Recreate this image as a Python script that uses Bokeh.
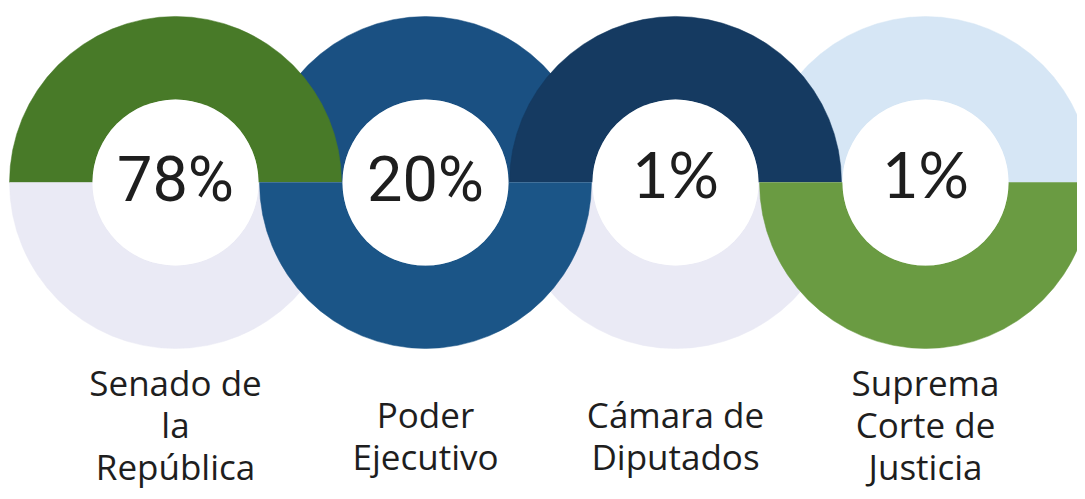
import math
from bokeh.plotting import figure
from bokeh.models import Range1d, ColumnDataSource
from bokeh.core.properties import value
from bokeh.embed import file_html
from bokeh.resources import INLINE

# ---- data ----
institutions = ["Senado de\nla\nRepública", "Poder\nEjecutivo",
                "Cámara de\nDiputados", "Suprema\nCorte de\nJusticia"]
shares = [78, 20, 1, 1]

# ---- styles ----
top_colors = ["#487a28", "#1a5082", "#153a61", "#d6e6f5"]
bottom_colors = ["#eaeaf5", "#1b5587", "#eaeaf5", "#6a9b42"]
pct_fonts = ["Roboto", "Roboto", "Lato", "Lato"]
pct_shift = {"Roboto": -3, "Lato": -9}   # visual centring per font (px)

W, H = 1077, 491
SPACING = 250
X0 = 175
CY_PX = 182
R_OUT, R_IN = 166, 83
LABEL_SIZE = 35
LABEL_MID = 0.388 * LABEL_SIZE      # baseline offset of a "middle" anchored line
LINE = 42


def Y(px):
    """pixel row from the top -> data y"""
    return H - px


p = figure(width=W, height=H, output_backend="svg", toolbar_location=None,
           x_range=Range1d(0, W), y_range=Range1d(0, H), min_border=0)
p.axis.visible = False
p.grid.visible = False
p.outline_line_color = None
p.background_fill_color = "white"
p.border_fill_color = "white"

n = len(shares)
xs = [X0 + SPACING * i for i in range(n)]
ys = [Y(CY_PX)] * n


def halves(idx, top):
    src = ColumnDataSource(dict(
        x=[xs[i] for i in idx], y=[ys[i] for i in idx],
        color=[(top_colors if top else bottom_colors)[i] for i in idx]))
    a0, a1 = (0, math.pi) if top else (math.pi, 2 * math.pi)
    p.annular_wedge(x="x", y="y", inner_radius=R_IN, outer_radius=R_OUT,
                    inner_radius_units="screen", outer_radius_units="screen",
                    start_angle=a0, end_angle=a1, direction="anticlock",
                    fill_color="color", line_color="color", line_width=0.5,
                    source=src)


odd = [i for i in range(n) if i % 2 == 1]
even = [i for i in range(n) if i % 2 == 0]
# woven chain: odd rings under at top, over at bottom
halves(odd, True)
halves(even, True)
halves(even, False)
halves(odd, False)

# white holes
p.circle(x=xs, y=ys, radius=R_IN, radius_units="screen",
         fill_color="white", line_color=None)

# percentages
for i in range(n):
    f = pct_fonts[i]
    p.text(x=[xs[i]], y=[ys[i]], text=[f"{shares[i]}%"],
           text_font=value(f), text_font_size="63px",
           text_color="#1e1e1e", text_align="center",
           text_baseline="middle", y_offset=pct_shift[f])

# labels
for i, lab in enumerate(institutions):
    lines = lab.split("\n")
    m = len(lines)
    mid = min(449, 480 - LINE * (m - 1) / 2)
    for k, line in enumerate(lines):
        base = mid + LINE * (k - (m - 1) / 2)
        p.text(x=[xs[i]], y=[Y(base - LABEL_MID)], text=[line],
               text_font=value("Open Sans"), text_font_size=f"{LABEL_SIZE}px",
               text_color="#1e1e1e", text_align="center",
               text_baseline="middle")

open("out.html", "w").write(file_html(p, INLINE))
